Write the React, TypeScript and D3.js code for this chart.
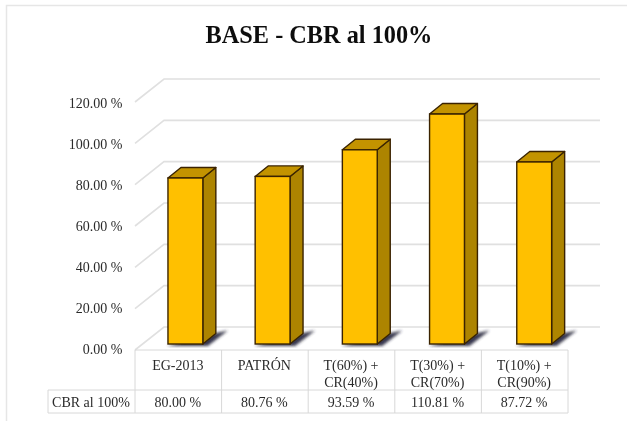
import { useEffect, useRef } from 'react';
import * as d3 from 'd3';

const categories = [['EG-2013'], ['PATRÓN'], ['T(60%) +', 'CR(40%)'], ['T(30%) +', 'CR(70%)'], ['T(10%) +', 'CR(90%)']];
const values = [80.0, 80.76, 93.59, 110.81, 87.72];
const ticks = [0, 20, 40, 60, 80, 100, 120];
const seriesName = 'CBR al 100%';

const font = '"Liberation Serif", "Times New Roman", serif';

export default function App() {
  const svgRef = useRef<SVGSVGElement>(null);

  useEffect(() => {
    if (!svgRef.current) return;
    const svg = d3.select(svgRef.current);
    svg.selectAll('*').remove();

    // plot box, front plane of the floor
    const left = 135;
    const colW = 86.6;
    const right = left + colW * 5;
    const rowA = 350;
    const rowB = 390;
    const rowC = 413;
    const tableLeft = 48;
    const wallDx = 29;
    const wallDy = 23;

    const y = d3.scaleLinear().domain([0, 120]).range([344, 95]);
    const frontY = d3.scaleLinear().domain([0, 120]).range([rowA, 102]);
    const labelY = d3.scaleLinear().domain([0, 120]).range([349.5, 103.5]);
    const x = d3
      .scaleBand<number>()
      .domain(d3.range(values.length))
      .range([141.8, 577.8])
      .paddingInner(0.6)
      .paddingOuter(0.3);

    const defs = svg.append('defs');
    defs
      .append('filter')
      .attr('id', 'soft')
      .append('feGaussianBlur')
      .attr('stdDeviation', 1.4);
    defs
      .append('filter')
      .attr('id', 'blur')
      .append('feGaussianBlur')
      .attr('stdDeviation', 0.4);

    svg.append('rect').attr('width', 627).attr('height', 421).attr('fill', '#fff');
    const gridLine = d3.line<[number, number]>();

    // chart frame, cut off by the page on the right
    svg
      .append('path')
      .attr('d', gridLine([[6.5, 421], [6.5, 5.5], [627, 5.5]]))
      .attr('fill', 'none')
      .attr('stroke', '#e6e6e6')
      .attr('stroke-width', 1.5);

    const g = svg.append('g').attr('filter', 'url(#blur)');

    // walls
    const gridColor = '#e0e0e0';
    ticks.forEach((t) => {
      const fy = frontY(t);
      g.append('path')
        .attr(
          'd',
          gridLine([
            [left, fy],
            [left + wallDx, fy - wallDy],
            [right + wallDx + 3, fy - wallDy],
          ]),
        )
        .attr('fill', 'none')
        .attr('stroke', gridColor)
        .attr('stroke-width', 1.6);
    });

    // table
    const colX = d3.range(values.length + 1).map((i) => left + i * colW);
    const tableColor = '#d8d8d8';
    const tableLines: [number, number, number, number][] = [
      [left, rowA, right, rowA],
      [tableLeft, rowB, right, rowB],
      [tableLeft, rowC, right, rowC],
      [tableLeft, rowB, tableLeft, rowC],
      ...colX.map((cx): [number, number, number, number] => [cx, rowA, cx, rowC]),
    ];
    g.selectAll('line.table')
      .data(tableLines)
      .join('line')
      .attr('class', 'table')
      .attr('x1', (d) => d[0])
      .attr('y1', (d) => d[1])
      .attr('x2', (d) => d[2])
      .attr('y2', (d) => d[3])
      .attr('stroke', tableColor)
      .attr('stroke-width', 1);

    // bars
    const dx = 13;
    const dy = 10.5;
    const barLine = '#3a2400';
    const bars = g.selectAll('g.bar').data(values).join('g').attr('class', 'bar');

    bars.each(function (v, i) {
      const bar = d3.select(this);
      const x0 = x(i) ?? 0;
      const w = x.bandwidth();
      const top = y(v);
      const bottom = y(0);

      bar
        .append('path')
        .attr(
          'd',
          gridLine([
            [x0 - 1, bottom + 2],
            [x0 + w + 5, bottom + 2],
            [x0 + w + dx + 12, bottom - dy - 3],
            [x0 + w + dx - 2, bottom - dy],
          ]) + 'Z',
        )
        .attr('fill', '#23233a')
        .attr('opacity', 0.9)
        .attr('filter', 'url(#soft)');

      bar
        .append('path')
        .attr(
          'd',
          gridLine([
            [x0 + w, top],
            [x0 + w + dx, top - dy],
            [x0 + w + dx, bottom - dy],
            [x0 + w, bottom],
          ]) + 'Z',
        )
        .attr('fill', '#ad8400')
        .attr('stroke', barLine)
        .attr('stroke-width', 1.4)
        .attr('stroke-linejoin', 'round');

      bar
        .append('path')
        .attr(
          'd',
          gridLine([
            [x0, top],
            [x0 + dx, top - dy],
            [x0 + w + dx, top - dy],
            [x0 + w, top],
          ]) + 'Z',
        )
        .attr('fill', '#c39300')
        .attr('stroke', barLine)
        .attr('stroke-width', 1.4)
        .attr('stroke-linejoin', 'round');

      bar
        .append('rect')
        .attr('x', x0)
        .attr('y', top)
        .attr('width', w)
        .attr('height', bottom - top)
        .attr('fill', '#ffc000')
        .attr('stroke', barLine)
        .attr('stroke-width', 1.4);
    });

    // y axis labels
    g.selectAll('text.tick')
      .data(ticks)
      .join('text')
      .attr('class', 'tick')
      .attr('x', 122.5)
      .attr('y', (d) => labelY(d))
      .attr('text-anchor', 'end')
      .attr('dy', '0.32em')
      .attr('font-family', font)
      .attr('font-size', 14)
      .attr('fill', '#2b2b2b')
      .text((d) => `${d.toFixed(2)} %`);

    // category cells
    categories.forEach((lines, i) => {
      const cx = left + (i + 0.5) * colW - 0.5;
      lines.forEach((line, j) => {
        g.append('text')
          .attr('x', cx)
          .attr('y', rowA + 20 + j * 17)
          .attr('text-anchor', 'middle')
          .attr('font-family', font)
          .attr('font-size', 14)
          .attr('fill', '#2b2b2b')
          .text(line);
      });
      g.append('text')
        .attr('x', cx)
        .attr('y', rowB + 16.5)
        .attr('text-anchor', 'middle')
        .attr('font-family', font)
        .attr('font-size', 14)
        .attr('fill', '#2b2b2b')
        .text(`${values[i].toFixed(2)} %`);
    });

    g.append('text')
      .attr('x', (tableLeft + left) / 2 - 0.5)
      .attr('y', rowB + 16.5)
      .attr('text-anchor', 'middle')
      .attr('font-family', font)
      .attr('font-size', 14)
      .attr('fill', '#2b2b2b')
      .text(seriesName);

    g.append('text')
      .attr('x', 319)
      .attr('y', 43)
      .attr('text-anchor', 'middle')
      .attr('font-family', font)
      .attr('font-size', 24.3)
      .attr('font-weight', 'bold')
      .attr('fill', '#111')
      .text('BASE - CBR al 100%');
  }, []);

  return (
    <svg
      ref={svgRef}
      width={627}
      height={421}
      style={{ position: 'absolute', left: 0, top: 0, display: 'block' }}
    />
  );
}
